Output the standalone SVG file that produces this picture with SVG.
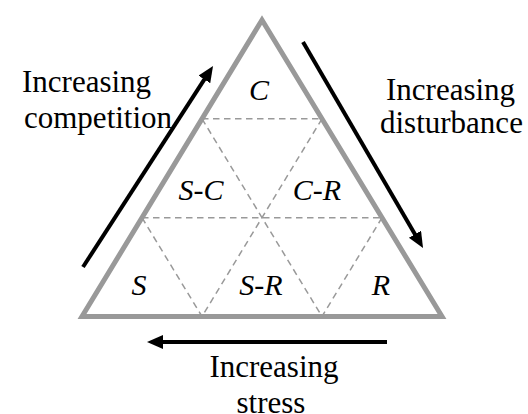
<svg xmlns="http://www.w3.org/2000/svg" width="528" height="414" viewBox="0 0 528 414">
<style>
.tri{fill:none;stroke:#999;stroke-width:5;stroke-linejoin:miter}
.grid{fill:none;stroke:#999;stroke-width:1.5;stroke-dasharray:6.5 4.5}
.arr{fill:none;stroke:#000;stroke-width:4}
.lab{font-style:italic;font-size:30px;fill:#000;text-anchor:middle}
.cap{font-size:31px;fill:#000}
</style>
<defs>
<marker id="ah" markerUnits="userSpaceOnUse" markerWidth="18" markerHeight="16" refX="6" refY="7" orient="auto">
<path d="M0,0 L16,7 L0,14 z" fill="#000"/>
</marker>
</defs>
<rect width="528" height="414" fill="#fff"/>
<g id="triangle">
<polygon class="tri" points="262,20 82,316.5 442,316.5"/>
</g>
<g id="grid">
<line class="grid" x1="202" y1="118.8" x2="322" y2="118.8"/>
<line class="grid" x1="142" y1="217.7" x2="382" y2="217.7"/>
<line class="grid" x1="202" y1="118.8" x2="322" y2="316.5"/>
<line class="grid" x1="322" y1="118.8" x2="202" y2="316.5"/>
<line class="grid" x1="142" y1="217.7" x2="202" y2="316.5"/>
<line class="grid" x1="382" y1="217.7" x2="322" y2="316.5"/>
</g>
<g id="labels" font-family="'Liberation Serif', 'DejaVu Serif', serif">
<g id="node-C"><text class="lab" x="259" y="100">C</text></g>
<g id="node-SC"><text class="lab" x="201" y="200">S-C</text></g>
<g id="node-CR"><text class="lab" x="317" y="200">C-R</text></g>
<g id="node-S"><text class="lab" x="139" y="295">S</text></g>
<g id="node-SR"><text class="lab" x="261" y="295">S-R</text></g>
<g id="node-R"><text class="lab" x="381" y="295">R</text></g>
</g>
<g id="connectors">
<line class="arr" x1="83" y1="267" x2="207.6" y2="74.4" marker-end="url(#ah)"/>
<line class="arr" x1="303" y1="42" x2="418" y2="239.4" marker-end="url(#ah)"/>
<line class="arr" x1="387" y1="342" x2="157" y2="342" marker-end="url(#ah)"/>
</g>
<g id="captions" font-family="'Liberation Serif', 'DejaVu Serif', serif">
<g id="cap-competition">
<text class="cap" x="22" y="92">Increasing</text>
<text class="cap" x="24" y="128">competition</text>
</g>
<g id="cap-disturbance">
<text class="cap" x="386" y="100">Increasing</text>
<text class="cap" x="380" y="133">disturbance</text>
</g>
<g id="cap-stress">
<text class="cap" x="274" y="377" text-anchor="middle">Increasing</text>
<text class="cap" x="271" y="413" text-anchor="middle">stress</text>
</g>
</g>
</svg>
